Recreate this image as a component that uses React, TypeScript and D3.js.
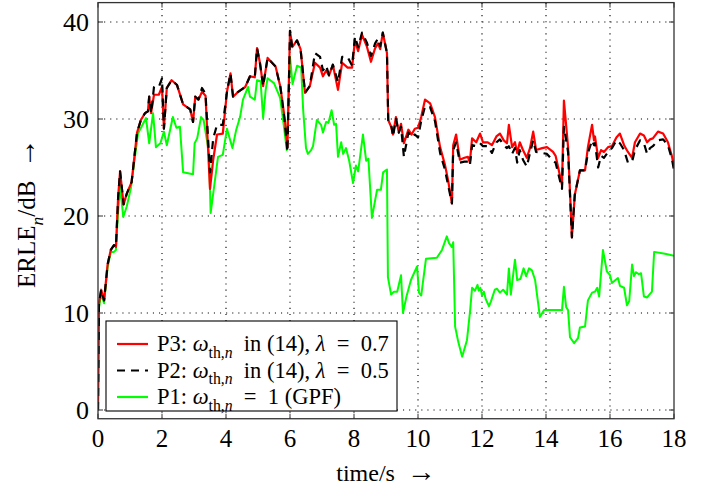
import { useRef, useEffect } from "react";
import * as d3 from "d3";

// [time in s, ERLE in dB]
const p3Erle: [number, number][] = [
    [0, 0], [0.03, 11], [0.1, 12.4], [0.19, 11.3], [0.3, 15], [0.4, 16.5], [0.5, 17], [0.56, 16.8],
    [0.63, 22], [0.69, 24.6], [0.8, 21.2], [0.9, 22.3], [1.05, 23.5], [1.22, 28.6], [1.34, 29.9],
    [1.47, 30.6], [1.56, 30.8], [1.6, 32.3], [1.66, 30.6], [1.75, 32.5], [1.9, 32.5], [2.0, 33.3],
    [2.06, 29], [2.15, 33.2], [2.3, 34], [2.47, 33.5], [2.66, 31.5], [2.88, 31], [2.97, 29.7],
    [3.04, 32.3], [3.14, 32], [3.25, 32.8], [3.36, 32.4], [3.5, 22.8], [3.6, 25.8], [3.72, 28.4],
    [3.9, 28.5], [4.03, 32.8], [4.14, 34.7], [4.22, 32.3], [4.38, 32.8], [4.6, 33.3], [4.75, 34.4],
    [4.9, 34.3], [4.97, 37.3], [5.06, 35.8], [5.16, 33.4], [5.3, 36.3], [5.55, 35.4], [5.7, 33.3],
    [5.84, 29.9], [5.92, 27.1], [6.0, 39.1], [6.07, 37.4], [6.22, 38.1], [6.33, 37.2], [6.47, 32.7],
    [6.62, 33.4], [6.78, 35.8], [6.94, 35.3], [7.03, 34.4], [7.13, 35], [7.22, 34.5], [7.34, 35.6],
    [7.5, 33], [7.63, 35.8], [7.8, 35.3], [7.94, 35.3], [8.03, 38.1], [8.13, 37], [8.25, 38.7],
    [8.4, 37.5], [8.53, 35.9], [8.66, 37.3], [8.75, 37.8], [8.82, 37.2], [8.9, 38.9], [9.03, 36.8],
    [9.07, 29.9], [9.16, 29.2], [9.22, 28.4], [9.31, 30.2], [9.4, 28.6], [9.47, 29.5], [9.56, 27.5],
    [9.7, 28.9], [9.8, 28.4], [9.9, 29], [10.0, 29.1], [10.1, 30.2], [10.22, 32], [10.38, 31.6],
    [10.53, 30.2], [10.69, 27.1], [10.84, 25.3], [10.94, 23.7], [11.06, 21.3], [11.1, 27.3],
    [11.19, 28.4], [11.31, 25.8], [11.45, 26], [11.56, 26.1], [11.62, 25.5], [11.69, 28],
    [11.82, 27.6], [11.94, 28.5], [12.03, 27.6], [12.18, 27.6], [12.31, 27.3], [12.45, 28.2],
    [12.56, 28.5], [12.68, 27.8], [12.78, 27.5], [12.84, 29.4], [12.94, 27.1], [13.03, 27.6],
    [13.1, 26.5], [13.18, 27.6], [13.28, 26.8], [13.4, 26], [13.5, 27], [13.6, 28.7], [13.69, 26.8],
    [13.88, 27], [14.03, 27.1], [14.22, 26.6], [14.3, 26.2], [14.5, 23.2], [14.56, 31.9],
    [14.69, 27.1], [14.81, 17.8], [14.9, 22.2], [15.06, 24.7], [15.22, 24.7], [15.31, 27.1],
    [15.44, 29.4], [15.5, 27.8], [15.53, 28.2], [15.63, 26], [15.72, 26.8], [15.81, 26.6],
    [15.94, 27.1], [16.06, 27.2], [16.2, 28.1], [16.31, 28.5], [16.44, 27.3], [16.56, 26.6],
    [16.69, 26], [16.78, 27.6], [16.94, 28.5], [17.06, 28.3], [17.16, 27.6], [17.25, 27.9],
    [17.34, 28], [17.5, 28.7], [17.66, 28.5], [17.81, 27.6], [17.94, 26.1], [18, 25],
];

const p2Erle: [number, number][] = [
    [0, 0], [0.03, 11], [0.1, 12.4], [0.19, 11.3], [0.3, 15], [0.4, 16.5], [0.5, 17], [0.56, 16.8],
    [0.63, 22], [0.69, 24.6], [0.8, 21.2], [0.9, 22.3], [1.05, 23.5], [1.22, 28.6], [1.34, 29.9],
    [1.47, 30.6], [1.56, 30.8], [1.6, 32.3], [1.66, 30.6], [1.75, 33.3], [1.9, 33.3], [2.0, 34.2],
    [2.06, 29], [2.15, 33.2], [2.3, 34], [2.47, 33.5], [2.66, 31.5], [2.88, 31], [2.97, 29.7],
    [3.04, 32.3], [3.14, 32], [3.25, 33.2], [3.36, 32.6], [3.5, 24.5], [3.6, 28], [3.72, 29.4],
    [3.9, 29.4], [4.03, 32.8], [4.14, 34.7], [4.22, 32.3], [4.38, 32.8], [4.6, 33.3], [4.75, 34.4],
    [4.9, 34.3], [4.97, 37.3], [5.06, 35.8], [5.16, 33.4], [5.3, 36.3], [5.55, 35.4], [5.7, 33.3],
    [5.84, 29.6], [5.92, 26.6], [6.0, 39.1], [6.07, 37.4], [6.22, 38.1], [6.33, 37.2], [6.47, 32.7],
    [6.62, 33.4], [6.78, 36.8], [6.94, 36.4], [7.03, 35], [7.13, 35.5], [7.22, 34.5], [7.34, 35.6],
    [7.5, 33.8], [7.63, 36.4], [7.8, 36.4], [7.94, 35.5], [8.03, 38.5], [8.13, 37.4], [8.25, 38.9],
    [8.4, 37.9], [8.53, 36.5], [8.66, 37.8], [8.75, 38.3], [8.82, 37.5], [8.9, 38.9], [9.03, 36.8],
    [9.07, 29.9], [9.16, 29.5], [9.22, 28.2], [9.31, 30], [9.4, 28.6], [9.47, 29.2], [9.56, 26.1],
    [9.7, 28.6], [9.8, 28.1], [9.9, 28.4], [10.0, 28.1], [10.1, 29.8], [10.22, 31.3], [10.38, 31.2],
    [10.53, 29.8], [10.69, 26.5], [10.84, 24.8], [10.94, 23.2], [11.06, 21.3], [11.1, 26.8],
    [11.19, 27.6], [11.31, 25.5], [11.45, 25.6], [11.56, 25.6], [11.62, 25.2], [11.69, 27.3],
    [11.82, 27.2], [11.94, 27.5], [12.03, 27.2], [12.18, 27.2], [12.31, 26.5], [12.45, 27.6],
    [12.56, 27.9], [12.68, 27.3], [12.78, 27], [12.84, 27.2], [12.94, 26.4], [13.03, 27],
    [13.1, 25.5], [13.18, 26.8], [13.28, 25.8], [13.4, 25.1], [13.5, 26.5], [13.6, 27.8],
    [13.69, 26.6], [13.88, 26.5], [14.03, 26.4], [14.22, 25.7], [14.3, 25.5], [14.5, 22.8],
    [14.56, 29.2], [14.69, 26.6], [14.81, 17.8], [14.9, 22.2], [15.06, 24.7], [15.22, 24.7],
    [15.31, 26.5], [15.44, 27.8], [15.5, 27.3], [15.53, 27.5], [15.63, 25], [15.72, 26.2],
    [15.81, 26], [15.94, 26.6], [16.06, 27], [16.2, 27.8], [16.31, 27.5], [16.44, 26.8],
    [16.56, 25.5], [16.69, 25.6], [16.78, 26.8], [16.94, 27.8], [17.06, 27.5], [17.16, 26.4],
    [17.25, 27], [17.34, 27.2], [17.5, 27.8], [17.66, 27.9], [17.81, 27.3], [17.94, 25.8], [18, 24.7],
];

const p1Erle: [number, number][] = [
    [0, 0], [0.03, 10.5], [0.1, 12], [0.19, 11], [0.3, 14.7], [0.4, 16.3], [0.5, 16.3], [0.56, 16.5],
    [0.63, 20.5], [0.69, 23], [0.79, 19.9], [0.9, 21], [1.03, 22.9], [1.25, 28.5], [1.5, 30.1],
    [1.6, 27.5], [1.72, 30.6], [1.81, 27.1], [1.95, 27.5], [2.06, 28.7], [2.15, 27.3], [2.34, 30.2],
    [2.45, 29.1], [2.56, 29.2], [2.66, 24.5], [2.97, 24.3], [3.02, 27.5], [3.1, 28], [3.22, 30.2],
    [3.3, 29.9], [3.47, 26.5], [3.52, 20.3], [3.75, 26.1], [3.9, 26.3], [4.03, 29], [4.2, 27],
    [4.32, 28.9], [4.44, 30.2], [4.53, 32], [4.69, 33.3], [4.75, 32.3], [4.9, 32], [4.97, 34],
    [5.08, 33.9], [5.16, 30.1], [5.24, 33], [5.3, 34.2], [5.5, 33.7], [5.69, 32.2], [5.8, 29.5],
    [5.9, 26.8], [6.0, 36.4], [6.08, 33.6], [6.22, 35.5], [6.35, 35.3], [6.41, 31], [6.5, 27],
    [6.56, 26.4], [6.66, 26.8], [6.72, 27.2], [6.84, 29.9], [6.97, 29.4], [7.03, 28.6], [7.13, 29.7],
    [7.2, 29.6], [7.3, 30.9], [7.38, 29.4], [7.44, 29.5], [7.5, 26.1], [7.6, 27.6], [7.66, 26.4],
    [7.75, 27], [7.85, 25.7], [7.97, 23.4], [8.06, 25.2], [8.13, 24.6], [8.28, 28.4], [8.38, 25.7],
    [8.45, 25.9], [8.56, 19.8], [8.72, 22.7], [8.84, 22.7], [8.91, 24.5], [9.03, 24.8], [9.06, 13.7],
    [9.16, 11.9], [9.25, 12.2], [9.35, 12.2], [9.47, 13.9], [9.53, 10], [9.64, 11.7], [9.78, 13.4],
    [9.97, 14.8], [10.03, 12.1], [10.1, 11.8], [10.25, 15.6], [10.59, 15.7], [10.75, 16.5],
    [10.9, 17.9], [10.97, 17.2], [11.06, 16.8], [11.1, 17.3], [11.16, 8.6], [11.26, 7],
    [11.38, 5.5], [11.53, 7.2], [11.63, 10.3], [11.69, 12.6], [11.78, 12.3], [11.86, 12.9],
    [11.9, 12.3], [11.95, 12.6], [12.0, 11.8], [12.06, 12.2], [12.12, 11.4], [12.22, 10.7],
    [12.28, 11.2], [12.4, 12.4], [12.47, 12.5], [12.56, 12.1], [12.66, 12.4], [12.78, 11.9],
    [12.84, 14.6], [12.9, 11.9], [13.03, 15.5], [13.1, 13.4], [13.2, 13.5], [13.3, 14.6],
    [13.38, 13.8], [13.47, 14.6], [13.56, 14.4], [13.66, 13.4], [13.81, 9.6], [13.94, 10.3],
    [14.5, 10.3], [14.56, 12.7], [14.63, 10.6], [14.69, 10.3], [14.75, 7.5], [14.88, 6.9],
    [15.0, 7.4], [15.06, 8.5], [15.22, 8.6], [15.31, 11.3], [15.44, 12.1], [15.53, 12.2],
    [15.6, 12.6], [15.66, 11.7], [15.78, 16.5], [15.9, 14.3], [16.0, 13.9], [16.06, 13.1],
    [16.25, 13.6], [16.31, 12.8], [16.44, 12.6], [16.53, 10.8], [16.6, 11.2], [16.69, 15],
    [16.75, 13.8], [16.81, 14.2], [16.9, 14], [16.97, 14.1], [17.06, 11.7], [17.16, 11.6],
    [17.31, 12.2], [17.38, 16.3], [17.72, 16.1], [18, 15.9],
];

const xTicks = [0, 2, 4, 6, 8, 10, 12, 14, 16, 18];
const yTicks = [0, 10, 20, 30, 40];

type Part = { t: string; i?: boolean; sub?: boolean; big?: boolean };

const legendItems: { parts: Part[]; color: string; dash: string | null }[] = [
    {
        parts: [
            { t: "P3: " }, { t: "ω", i: true }, { t: "th,", sub: true }, { t: "n", sub: true, i: true },
            { t: "  in (14), " }, { t: "λ", i: true }, { t: "  =  0.7" },
        ],
        color: "#ff0000",
        dash: null,
    },
    {
        parts: [
            { t: "P2: " }, { t: "ω", i: true }, { t: "th,", sub: true }, { t: "n", sub: true, i: true },
            { t: "  in (14), " }, { t: "λ", i: true }, { t: "  =  0.5" },
        ],
        color: "#000000",
        dash: "8 6",
    },
    {
        parts: [
            { t: "P1: " }, { t: "ω", i: true }, { t: "th,", sub: true }, { t: "n", sub: true, i: true },
            { t: "  =  1 (GPF)" },
        ],
        color: "#00ff00",
        dash: null,
    },
];

const FONT = "'Liberation Serif', serif";

const richText = (
    sel: d3.Selection<SVGTextElement, unknown, null, undefined>,
    parts: Part[],
    size: number
) => {
    let down = false;
    const shift = size * 0.3;
    parts.forEach((p) => {
        const ts = sel.append("tspan").text(p.t);
        if (p.i) ts.attr("font-style", "italic");
        if (p.big) ts.attr("font-size", size * 1.2);
        if (p.sub) {
            ts.attr("font-size", size * 0.7);
            if (!down) {
                ts.attr("dy", shift);
                down = true;
            }
        } else if (down) {
            ts.attr("dy", -shift);
            down = false;
        }
    });
};

export default function App() {
    const svgRef = useRef<SVGSVGElement>(null);

    useEffect(() => {
        if (!svgRef.current) return;
        const svg = d3.select(svgRef.current);
        svg.selectAll("*").remove();

        const width = 713;
        const height = 495;
        const x = d3.scaleLinear().domain([0, 18]).range([98, 674]);
        const y = d3.scaleLinear().domain([0, 40]).range([410, 22]);
        const yBottom = y(-0.9);
        const yTop = y(42);

        svg.attr("width", width).attr("height", height);
        svg.append("rect").attr("width", width).attr("height", height).attr("fill", "#fff");

        // grid
        const grid = svg.append("g").attr("stroke", "#000").attr("stroke-width", 1.1)
            .attr("stroke-dasharray", "1.1 5");
        grid.selectAll(".gx").data(xTicks.slice(1, -1)).enter().append("line")
            .attr("x1", (d) => x(d)).attr("x2", (d) => x(d))
            .attr("y1", yBottom).attr("y2", yTop);
        grid.selectAll(".gy").data(yTicks).enter().append("line")
            .attr("x1", x(0)).attr("x2", x(18))
            .attr("y1", (d) => y(d)).attr("y2", (d) => y(d));

        // series
        const line = d3.line<[number, number]>().x((d) => x(d[0])).y((d) => y(d[1]));
        const clip = svg.append("defs").append("clipPath").attr("id", "plotclip");
        clip.append("rect").attr("x", x(0)).attr("y", yTop).attr("width", x(18) - x(0))
            .attr("height", yBottom - yTop);
        const plot = svg.append("g").attr("clip-path", "url(#plotclip)");
        plot.append("path").datum(p1Erle).attr("d", line).attr("fill", "none")
            .attr("stroke", "#00ff00").attr("stroke-width", 2).attr("stroke-linejoin", "round");
        plot.append("path").datum(p3Erle).attr("d", line).attr("fill", "none")
            .attr("stroke", "#ff0000").attr("stroke-width", 2.2).attr("stroke-linejoin", "round");
        plot.append("path").datum(p2Erle).attr("d", line).attr("fill", "none")
            .attr("stroke", "#000").attr("stroke-width", 2.2).attr("stroke-dasharray", "8 6")
            .attr("stroke-linejoin", "round");

        // ticks on all four sides
        const tk = svg.append("g").attr("stroke", "#333").attr("stroke-width", 1);
        xTicks.forEach((t) => {
            tk.append("line").attr("x1", x(t)).attr("x2", x(t)).attr("y1", yBottom).attr("y2", yBottom - 5);
            tk.append("line").attr("x1", x(t)).attr("x2", x(t)).attr("y1", yTop).attr("y2", yTop + 5);
        });
        yTicks.forEach((t) => {
            tk.append("line").attr("x1", x(0)).attr("x2", x(0) + 5).attr("y1", y(t)).attr("y2", y(t));
            tk.append("line").attr("x1", x(18)).attr("x2", x(18) - 5).attr("y1", y(t)).attr("y2", y(t));
        });

        // frame
        svg.append("rect").attr("x", x(0)).attr("y", yTop).attr("width", x(18) - x(0))
            .attr("height", yBottom - yTop).attr("fill", "none").attr("stroke", "#333")
            .attr("stroke-width", 1.3);

        // tick labels
        svg.append("g").selectAll("text").data(xTicks).enter().append("text")
            .attr("x", (d) => x(d)).attr("y", 447).attr("text-anchor", "middle")
            .attr("font-family", FONT).attr("font-size", 25).text((d) => d);
        svg.append("g").selectAll("text").data(yTicks).enter().append("text")
            .attr("x", 89).attr("y", (d) => y(d) + 9).attr("text-anchor", "end")
            .attr("font-family", FONT).attr("font-size", 26).text((d) => d);

        // axis labels
        const xl = svg.append("text").attr("x", 386).attr("y", 481).attr("text-anchor", "middle")
            .attr("font-family", FONT).attr("font-size", 24).style("white-space", "pre");
        richText(xl, [{ t: "time/s  " }, { t: "→", big: true }], 24);
        const yl = svg.append("text").attr("transform", "translate(35,213) rotate(-90)")
            .attr("text-anchor", "middle").attr("font-family", FONT).attr("font-size", 25)
            .style("white-space", "pre");
        richText(yl, [{ t: "ERLE" }, { t: "n", sub: true, i: true }, { t: "/dB  " }, { t: "→", big: true }], 25);

        // legend
        const lg = svg.append("g");
        lg.append("rect").attr("x", 106).attr("y", 321).attr("width", 291).attr("height", 90)
            .attr("fill", "#fff").attr("stroke", "#000").attr("stroke-width", 1.1);
        legendItems.forEach((item, i) => {
            const cy = 344 + i * 26.5;
            lg.append("line").attr("x1", 117).attr("x2", 148).attr("y1", cy).attr("y2", cy)
                .attr("stroke", item.color).attr("stroke-width", 2.2)
                .attr("stroke-dasharray", item.dash ?? null);
            const t = lg.append("text").attr("x", 157).attr("y", cy + 7)
                .attr("font-family", FONT).attr("font-size", 22.5).style("white-space", "pre");
            richText(t, item.parts, 22.5);
        });
    }, []);

    return <svg ref={svgRef} style={{ position: "absolute", left: 0, top: 0 }} />;
}
